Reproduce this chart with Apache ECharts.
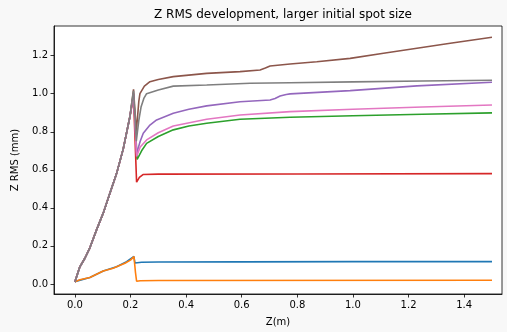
<!DOCTYPE html>
<html>
<head>
<meta charset="utf-8">
<script src="https://cdn.jsdelivr.net/npm/echarts@6/dist/echarts.min.js"></script>
<style type="text/css">
	html,body{margin:0;padding:0;background:#f8f8f8}
	#main{width:507px;height:332px;}
</style>
</head>
<body>
<div id="main"></div>
<script type="text/javascript">
// shared rising part of the six upper curves (z in m, rms in mm)
var riseZ = [0, 0.018, 0.036, 0.054, 0.078, 0.102, 0.126, 0.15, 0.174, 0.198];
var riseV = [0.01, 0.09, 0.135, 0.19, 0.284, 0.372, 0.477, 0.58, 0.71, 0.88];

// C0 blue
var blueZ = [0, 0.054, 0.102, 0.15, 0.186, 0.2125, 0.216, 0.222, 0.24, 0.3, 0.6, 1.0, 1.5];
var blueV = [0.012, 0.034, 0.068, 0.09, 0.117, 0.144, 0.11, 0.11, 0.114, 0.115, 0.116, 0.117, 0.117];
// C1 orange
var orangeZ = [0, 0.018, 0.054, 0.102, 0.138, 0.15, 0.18, 0.2, 0.2125, 0.218, 0.222, 0.235, 0.3, 1.5];
var orangeV = [0.012, 0.022, 0.034, 0.068, 0.082, 0.09, 0.109, 0.125, 0.144, 0.06, 0.014, 0.017, 0.018, 0.019];
// C2 green
var greenZ = [0.211, 0.224, 0.24, 0.258, 0.3, 0.354, 0.41, 0.474, 0.594, 0.774, 1.0, 1.25, 1.5];
var greenV = [1.0, 0.655, 0.70, 0.739, 0.775, 0.81, 0.83, 0.845, 0.866, 0.876, 0.884, 0.892, 0.899];
// C3 red
var redZ = [0.211, 0.222, 0.232, 0.245, 0.3, 0.8, 1.5];
var redV = [0.98, 0.535, 0.56, 0.575, 0.577, 0.578, 0.58];
// C4 purple
var purpleZ = [0.211, 0.222, 0.235, 0.246, 0.27, 0.294, 0.354, 0.41, 0.474, 0.594, 0.702, 0.72, 0.738, 0.76, 0.774, 0.99, 1.23, 1.5];
var purpleV = [1.0, 0.685, 0.75, 0.792, 0.835, 0.862, 0.897, 0.918, 0.936, 0.958, 0.967, 0.975, 0.988, 0.996, 0.999, 1.016, 1.041, 1.06];
// C5 brown
var brownZ = [0.211, 0.221, 0.23, 0.234, 0.25, 0.27, 0.3, 0.354, 0.474, 0.594, 0.666, 0.685, 0.702, 0.774, 0.87, 0.99, 1.11, 1.23, 1.35, 1.5];
var brownV = [1.023, 0.8, 0.96, 1.0, 1.04, 1.063, 1.075, 1.09, 1.107, 1.116, 1.125, 1.135, 1.146, 1.156, 1.168, 1.186, 1.213, 1.239, 1.265, 1.297];
// C6 pink
var pinkZ = [0.211, 0.222, 0.235, 0.258, 0.3, 0.354, 0.474, 0.594, 0.774, 1.0, 1.25, 1.5];
var pinkV = [1.0, 0.67, 0.72, 0.757, 0.795, 0.83, 0.866, 0.888, 0.906, 0.918, 0.93, 0.941];
// C7 gray
var grayZ = [0.211, 0.221, 0.23, 0.238, 0.248, 0.258, 0.3, 0.354, 0.474, 0.63, 0.774, 1.0, 1.25, 1.5];
var grayV = [1.015, 0.75, 0.86, 0.93, 0.975, 1.0, 1.02, 1.04, 1.046, 1.055, 1.058, 1.062, 1.067, 1.071];

var xTicks = [0, 0.2, 0.4, 0.6, 0.8, 1.0, 1.2, 1.4];
var yTicks = [0, 0.2, 0.4, 0.6, 0.8, 1.0, 1.2];

function pairs(z, v){
	var out = [];
	for (var i = 0; i < z.length; i++) out.push([z[i], v[i]]);
	return out;
}
function withRise(z, v){
	return pairs(riseZ.concat(z), riseV.concat(v));
}

var font = 'DejaVu Sans';
function line(color, data){
	return {
		type: 'line',
		data: data,
		showSymbol: false,
		symbol: 'none',
		animation: false,
		lineStyle: {color: color, width: 1.6},
		itemStyle: {color: color}
	};
}

var chart = echarts.init(document.getElementById('main'));
chart.setOption({
	backgroundColor: '#f8f8f8',
	animation: false,
	title: {
		text: 'Z RMS development, larger initial spot size',
		left: 278,
		textAlign: 'center',
		top: 4,
		textStyle: {fontFamily: font, fontSize: 12, fontWeight: 'normal', color: '#000'}
	},
	grid: {
		left: 54, right: 5, top: 26, bottom: 38,
		containLabel: false, outerBoundsMode: 'none',
		show: true, backgroundColor: '#fff', borderColor: '#000', borderWidth: 0.8
	},
	xAxis: {
		type: 'value',
		min: -0.075, max: 1.536,
		name: 'Z(m)',
		nameLocation: 'middle',
		nameGap: 23,
		nameTextStyle: {fontFamily: font, fontSize: 10, color: '#000'},
		splitLine: {show: false},
		axisLine: {show: true, onZero: false, lineStyle: {color: '#000', width: 0.8}},
		axisTick: {show: true, length: 3.5, lineStyle: {color: '#000', width: 0.8}, customValues: xTicks},
		axisLabel: {
			customValues: xTicks, margin: 6,
			fontFamily: font, fontSize: 10, color: '#000',
			formatter: function(v){ return v.toFixed(1); }
		}
	},
	yAxis: {
		type: 'value',
		min: -0.053, max: 1.356,
		name: 'Z RMS (mm)',
		nameLocation: 'middle',
		nameGap: 34,
		nameTextStyle: {fontFamily: font, fontSize: 10, color: '#000'},
		splitLine: {show: false},
		axisLine: {show: true, onZero: false, lineStyle: {color: '#000', width: 0.8}},
		axisTick: {show: true, length: 3.5, lineStyle: {color: '#000', width: 0.8}, customValues: yTicks},
		axisLabel: {
			customValues: yTicks, margin: 6,
			fontFamily: font, fontSize: 10, color: '#000',
			formatter: function(v){ return v.toFixed(1); }
		}
	},
	series: [
		line('#1f77b4', pairs(blueZ, blueV)),
		line('#ff7f0e', pairs(orangeZ, orangeV)),
		line('#2ca02c', withRise(greenZ, greenV)),
		line('#d62728', withRise(redZ, redV)),
		line('#9467bd', withRise(purpleZ, purpleV)),
		line('#8c564b', withRise(brownZ, brownV)),
		line('#e377c2', withRise(pinkZ, pinkV)),
		line('#7f7f7f', withRise(grayZ, grayV))
	]
});
</script>
</body>
</html>
